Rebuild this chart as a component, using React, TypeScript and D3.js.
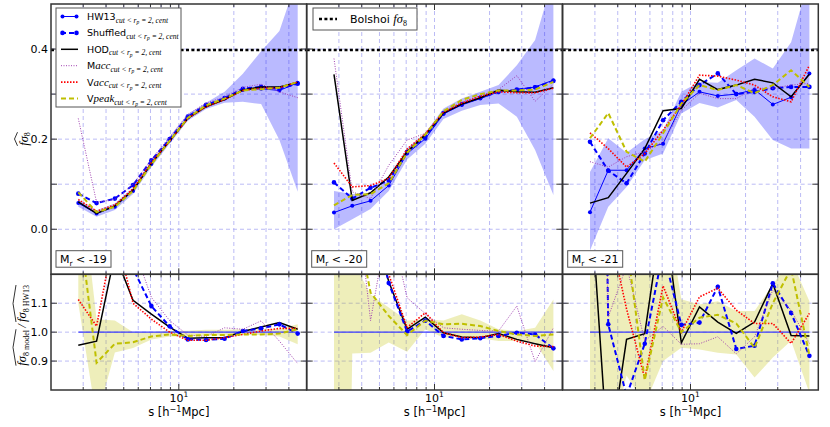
import React, { useEffect, useRef } from 'react';
import * as d3 from 'd3';

// separation bins, s [h^-1 Mpc]
const sep = [2.82, 3.55, 4.47, 5.62, 7.08, 8.91, 11.2, 14.1, 17.8, 22.4, 28.2, 35.5, 44.7];

const bolshoiF8 = 0.398;

// ---- M_r < -19 ----
const hw13_19 = [0.058, 0.035, 0.05, 0.085, 0.145, 0.197, 0.248, 0.274, 0.29, 0.309, 0.312, 0.308, 0.325];
const shuffled_19 = [0.079, 0.058, 0.068, 0.098, 0.153, 0.2, 0.25, 0.276, 0.291, 0.312, 0.316, 0.312, 0.323];
const hod_19 = [0.061, 0.035, 0.052, 0.087, 0.146, 0.196, 0.246, 0.272, 0.288, 0.309, 0.316, 0.316, 0.326];
const macc_19 = [0.246, 0.06, 0.066, 0.1, 0.155, 0.205, 0.255, 0.28, 0.294, 0.315, 0.322, 0.305, 0.292];
const vacc_19 = [0.066, 0.04, 0.054, 0.09, 0.148, 0.196, 0.246, 0.272, 0.288, 0.308, 0.313, 0.314, 0.327];
const vpeak_19 = [0.082, 0.038, 0.05, 0.085, 0.144, 0.196, 0.247, 0.275, 0.29, 0.308, 0.311, 0.314, 0.327];
const bandLo_19 = [0.05, 0.028, 0.043, 0.078, 0.138, 0.19, 0.241, 0.267, 0.281, 0.283, 0.278, 0.198, 0.083];
const bandHi_19 = [0.066, 0.042, 0.057, 0.092, 0.152, 0.204, 0.255, 0.281, 0.305, 0.345, 0.395, 0.44, 0.56];
const hodR_19 = [0.955, 0.969, 1.27, 1.11, 1.062, 1.017, 0.979, 0.981, 0.981, 1.002, 1.018, 1.033, 1.01];
const shufR_19 = [1.36, 1.6, 1.35, 1.22, 1.09, 1.02, 0.975, 0.973, 0.977, 1.004, 1.013, 1.027, 0.995];
const maccR_19 = [4.2, 1.7, 1.3, 1.3, 1.12, 1.04, 0.99, 0.985, 1.015, 1.01, 1.039, 0.969, 0.891];
const vaccR_19 = [1.113, 1.021, 1.35, 1.1, 1.045, 1.0, 0.972, 0.972, 0.981, 0.992, 1.004, 1.013, 1.013];
const vpeakR_19 = [1.4, 0.894, 0.96, 0.965, 0.985, 0.992, 0.987, 0.99, 0.99, 0.992, 0.992, 0.995, 1.01];
const ratioLo_19 = [1.1, 0.7, 0.93, 0.945, 0.975, 0.985, 0.985, 0.988, 0.988, 0.99, 0.99, 0.985, 0.958];
const ratioHi_19 = [1.6, 1.045, 1.04, 1.0, 1.0, 1.005, 1.005, 1.008, 1.008, 1.01, 1.01, 1.012, 1.027];

// ---- M_r < -20 ----
const hw13_20 = [0.037, 0.052, 0.063, 0.097, 0.168, 0.201, 0.256, 0.276, 0.29, 0.305, 0.309, 0.316, 0.331];
const shuffled_20 = [0.104, 0.068, 0.092, 0.108, 0.172, 0.205, 0.258, 0.278, 0.292, 0.305, 0.31, 0.315, 0.329];
const hod_20 = [0.344, 0.064, 0.081, 0.116, 0.172, 0.21, 0.258, 0.278, 0.292, 0.309, 0.305, 0.304, 0.314];
const macc_20 = [0.379, 0.083, 0.068, 0.142, 0.198, 0.213, 0.262, 0.282, 0.297, 0.31, 0.341, 0.284, 0.322];
const vacc_20 = [0.147, 0.094, 0.097, 0.113, 0.178, 0.212, 0.26, 0.28, 0.295, 0.305, 0.303, 0.303, 0.313];
const vpeak_20 = [0.053, 0.076, 0.078, 0.102, 0.17, 0.21, 0.262, 0.287, 0.3, 0.308, 0.308, 0.31, 0.327];
const bandLo_20 = [0.0, 0.022, 0.045, 0.085, 0.155, 0.19, 0.245, 0.263, 0.276, 0.279, 0.25, 0.176, 0.076];
const bandHi_20 = [0.085, 0.078, 0.08, 0.11, 0.18, 0.214, 0.268, 0.29, 0.305, 0.32, 0.364, 0.42, 0.56];
const hodR_20 = [9.3, 1.23, 1.4, 1.175, 1.01, 1.052, 0.998, 0.983, 0.981, 0.995, 0.975, 0.96, 0.946];
const shufR_20 = [2.8, 1.3, 1.46, 1.17, 1.002, 1.04, 0.987, 0.975, 0.979, 0.987, 0.998, 0.992, 0.944];
const maccR_20 = [10, 1.6, 1.04, 1.4, 1.119, 1.064, 1.015, 1.01, 1.006, 1.004, 1.09, 0.898, 1.015];
const vaccR_20 = [4.0, 1.8, 1.55, 1.2, 1.016, 1.067, 0.998, 0.981, 0.983, 0.992, 0.969, 0.952, 0.95];
const vpeakR_20 = [1.43, 1.46, 1.137, 1.056, 0.99, 1.04, 1.027, 1.029, 1.021, 1.004, 0.992, 0.987, 0.992];
const ratioLo_20 = [-3, 0.926, 0.929, 0.964, 0.932, 1.01, 0.981, 0.987, 0.979, 0.969, 0.969, 0.964, 0.866];
const ratioHi_20 = [10, 1.25, 1.13, 1.085, 1.04, 1.045, 1.04, 1.062, 1.04, 1.01, 1.004, 1.015, 1.113];

// ---- M_r < -21 ----
const hw13_21 = [0.038, 0.131, 0.131, 0.179, 0.19, 0.276, 0.305, 0.296, 0.3, 0.31, 0.277, 0.293, 0.346];
const shuffled_21 = [0.194, 0.13, 0.102, 0.168, 0.242, 0.283, 0.32, 0.346, 0.3, 0.305, 0.313, 0.316, 0.316];
const hod_21 = [0.058, 0.07, 0.124, 0.179, 0.263, 0.268, 0.333, 0.31, 0.32, 0.333, 0.325, 0.294, 0.344];
const macc_21 = [0.15, 0.138, 0.161, 0.172, 0.194, 0.264, 0.302, 0.29, 0.29, 0.313, 0.313, 0.32, 0.324];
const vacc_21 = [0.214, 0.179, 0.138, 0.168, 0.22, 0.276, 0.342, 0.34, 0.331, 0.32, 0.294, 0.283, 0.364];
const vpeak_21 = [0.202, 0.258, 0.172, 0.15, 0.213, 0.279, 0.32, 0.309, 0.32, 0.302, 0.32, 0.353, 0.316];
const bandLo_21 = [-0.047, 0.05, 0.094, 0.153, 0.168, 0.257, 0.28, 0.27, 0.287, 0.25, 0.198, 0.179, 0.179];
const bandHi_21 = [0.127, 0.202, 0.17, 0.2, 0.22, 0.305, 0.327, 0.325, 0.353, 0.379, 0.357, 0.415, 0.56];
const hodR_21 = [1.5, 0.55, 0.975, 0.995, 1.43, 0.963, 1.087, 1.035, 0.996, 1.035, 1.168, 0.988, 0.987];
const shufR_21 = [5.0, 1.027, 0.78, 0.96, 1.28, 1.025, 1.033, 1.157, 0.942, 0.953, 1.169, 1.066, 0.918];
const maccR_21 = [3.9, 1.052, 1.23, 0.97, 1.02, 0.958, 0.96, 0.984, 0.925, 0.984, 1.146, 1.076, 0.961];
const vaccR_21 = [5.6, 1.37, 1.08, 0.84, 1.16, 1.0, 1.122, 1.152, 1.076, 1.03, 1.03, 0.961, 1.065];
const vpeakR_21 = [5.3, 1.97, 1.31, 0.834, 1.12, 1.0, 1.05, 1.06, 1.03, 0.946, 1.1, 1.22, 0.92];
const ratioLo_21 = [0.2, 0.6, 0.85, 0.75, 0.9, 0.946, 0.94, 0.929, 0.923, 0.843, 0.912, 0.97, 0.79];
const ratioHi_21 = [3, 1.6, 1.5, 1.4, 1.5, 1.114, 1.096, 1.107, 1.073, 1.073, 1.165, 1.25, 1.107];

const panels = [
  {
    label: '-19',
    top: { hw13: hw13_19, shuffled: shuffled_19, hod: hod_19, macc: macc_19, vacc: vacc_19, vpeak: vpeak_19 },
    lo: bandLo_19, hi: bandHi_19,
    ratio: { hod: hodR_19, shuffled: shufR_19, macc: maccR_19, vacc: vaccR_19, vpeak: vpeakR_19 },
    rlo: ratioLo_19, rhi: ratioHi_19,
  },
  {
    label: '-20',
    top: { hw13: hw13_20, shuffled: shuffled_20, hod: hod_20, macc: macc_20, vacc: vacc_20, vpeak: vpeak_20 },
    lo: bandLo_20, hi: bandHi_20,
    ratio: { hod: hodR_20, shuffled: shufR_20, macc: maccR_20, vacc: vaccR_20, vpeak: vpeakR_20 },
    rlo: ratioLo_20, rhi: ratioHi_20,
  },
  {
    label: '-21',
    top: { hw13: hw13_21, shuffled: shuffled_21, hod: hod_21, macc: macc_21, vacc: vacc_21, vpeak: vpeak_21 },
    lo: bandLo_21, hi: bandHi_21,
    ratio: { hod: hodR_21, shuffled: shufR_21, macc: maccR_21, vacc: vaccR_21, vpeak: vpeakR_21 },
    rlo: ratioLo_21, rhi: ratioHi_21,
  },
];

const styles: Record<string, any> = {
  hw13: { stroke: '#0000ff', width: 1, dash: null, r: 2 },
  shuffled: { stroke: '#0000ff', width: 2, dash: '5,3', r: 2.3 },
  hod: { stroke: '#000000', width: 1.5, dash: null, r: 0 },
  macc: { stroke: '#a040b0', width: 1, dash: '1,1.5', r: 0 },
  vacc: { stroke: '#ff0000', width: 1.6, dash: '1.5,1.5', r: 0 },
  vpeak: { stroke: '#bfbf00', width: 2, dash: '5,3', r: 0 },
};

const legendItems = [
  { key: 'hw13', main: 'HW13', ital: '' },
  { key: 'shuffled', main: 'Shuffled', ital: '' },
  { key: 'hod', main: 'HOD', ital: '' },
  { key: 'macc', main: 'M', ital: 'acc' },
  { key: 'vacc', main: 'V', ital: 'acc' },
  { key: 'vpeak', main: 'V', ital: 'peak' },
];

const xGrid = [3, 4, 5, 6, 7, 8, 9, 10, 20, 30, 40];
const yTopTicks = [0.0, 0.1, 0.2, 0.3, 0.4];
const yTopLabels = ['0.0', '', '0.2', '', '0.4'];
const yBotTicks = [0.9, 1.0, 1.1];
const yBotLabels = ['0.9', '1.0', '1.1'];

const SANS = 'DejaVu Sans, sans-serif';
const SERIF = 'Liberation Serif, DejaVu Serif, serif';

export default function App() {
  const ref = useRef<SVGSVGElement>(null);

  useEffect(() => {
    const svg = d3.select(ref.current);
    svg.selectAll('*').remove();

    const TOP = 4, MID = 274.3, BOT = 390;
    const panelX = [51, 306.7, 562.7];
    const panelW = 255.6;
    const gridColor = '#a9a9f2';
    const spine = '#333';

    const yTop = d3.scaleLinear().domain([-0.1, 0.5]).range([MID, TOP]);
    const yBot = d3.scaleLinear().domain([0.8, 1.2]).range([BOT, MID]);
    const defs = svg.append('defs');

    panels.forEach((p, k) => {
      const x0 = panelX[k];
      const x1 = x0 + panelW;
      const x = d3.scaleLog().domain([2, 50]).range([x0, x1]);

      defs.append('clipPath').attr('id', `ct${k}`)
        .append('rect').attr('x', x0).attr('y', TOP).attr('width', panelW).attr('height', MID - TOP);
      defs.append('clipPath').attr('id', `cb${k}`)
        .append('rect').attr('x', x0).attr('y', MID).attr('width', panelW).attr('height', BOT - MID);

      // grid
      const grid = svg.append('g').attr('stroke', gridColor).attr('stroke-width', 0.8).attr('stroke-dasharray', '4,3');
      xGrid.forEach(v => {
        grid.append('line').attr('x1', x(v)).attr('x2', x(v)).attr('y1', TOP).attr('y2', BOT);
      });
      yTopTicks.forEach(v => {
        grid.append('line').attr('x1', x0).attr('x2', x1).attr('y1', yTop(v)).attr('y2', yTop(v));
      });
      yBotTicks.forEach(v => {
        grid.append('line').attr('x1', x0).attr('x2', x1).attr('y1', yBot(v)).attr('y2', yBot(v));
      });

      // ---- top panel ----
      const gt = svg.append('g').attr('clip-path', `url(#ct${k})`);
      const area = d3.area<number>()
        .x((d, i) => x(sep[i]))
        .y0((d, i) => yTop(p.lo[i]))
        .y1((d, i) => yTop(p.hi[i]));
      gt.append('path').datum(p.lo).attr('d', area).attr('fill', '#0000ff').attr('fill-opacity', 0.27);

      const lineTop = d3.line<number>().x((d, i) => x(sep[i])).y(d => yTop(d));
      ['hw13', 'shuffled', 'hod', 'macc', 'vacc', 'vpeak'].forEach(key => {
        const st = styles[key];
        const vals = (p.top as any)[key] as number[];
        gt.append('path').datum(vals).attr('d', lineTop)
          .attr('fill', 'none').attr('stroke', st.stroke).attr('stroke-width', st.width)
          .attr('stroke-dasharray', st.dash);
        if (st.r) {
          gt.selectAll(null).data(vals).enter().append('circle')
            .attr('cx', (d, i) => x(sep[i])).attr('cy', d => yTop(d)).attr('r', st.r).attr('fill', st.stroke);
        }
      });

      // Bolshoi reference
      svg.append('line').attr('x1', x0).attr('x2', x1)
        .attr('y1', yTop(bolshoiF8)).attr('y2', yTop(bolshoiF8))
        .attr('stroke', '#000').attr('stroke-width', 2.5).attr('stroke-dasharray', '3,2.4');

      // ---- bottom panel ----
      const gb = svg.append('g').attr('clip-path', `url(#cb${k})`);
      const areaB = d3.area<number>()
        .x((d, i) => x(sep[i]))
        .y0((d, i) => yBot(p.rlo[i]))
        .y1((d, i) => yBot(p.rhi[i]));
      gb.append('path').datum(p.rlo).attr('d', areaB).attr('fill', '#bfbf00').attr('fill-opacity', 0.27);
      gb.append('line').attr('x1', x(sep[0])).attr('x2', x(sep[sep.length - 1]))
        .attr('y1', yBot(1)).attr('y2', yBot(1)).attr('stroke', '#3a3aff').attr('stroke-width', 1.3);
      const lineBot = d3.line<number>().x((d, i) => x(sep[i])).y(d => yBot(d));
      ['hod', 'shuffled', 'macc', 'vacc', 'vpeak'].forEach(key => {
        const st = styles[key];
        const vals = (p.ratio as any)[key] as number[];
        gb.append('path').datum(vals).attr('d', lineBot)
          .attr('fill', 'none').attr('stroke', st.stroke).attr('stroke-width', st.width)
          .attr('stroke-dasharray', st.dash);
        if (st.r) {
          gb.selectAll(null).data(vals).enter().append('circle')
            .attr('cx', (d, i) => x(sep[i])).attr('cy', d => yBot(d)).attr('r', st.r).attr('fill', st.stroke);
        }
      });

      // ---- frames and ticks ----
      const ax = svg.append('g').attr('stroke', spine);
      [[TOP, MID], [MID, BOT]].forEach(([a, b]) => {
        ax.append('rect').attr('x', x0).attr('y', a).attr('width', panelW).attr('height', b - a)
          .attr('fill', 'none').attr('stroke-width', 1.5);
        xGrid.forEach(v => {
          const len = v === 10 ? 6 : 3;
          ax.append('line').attr('x1', x(v)).attr('x2', x(v)).attr('y1', a).attr('y2', a + len).attr('stroke-width', 1);
          ax.append('line').attr('x1', x(v)).attr('x2', x(v)).attr('y1', b).attr('y2', b - len).attr('stroke-width', 1);
        });
      });
      yTopTicks.forEach(v => {
        ax.append('line').attr('x1', x0).attr('x2', x0 + 6).attr('y1', yTop(v)).attr('y2', yTop(v)).attr('stroke-width', 1);
        ax.append('line').attr('x1', x1).attr('x2', x1 - 6).attr('y1', yTop(v)).attr('y2', yTop(v)).attr('stroke-width', 1);
      });
      yBotTicks.forEach(v => {
        ax.append('line').attr('x1', x0).attr('x2', x0 + 6).attr('y1', yBot(v)).attr('y2', yBot(v)).attr('stroke-width', 1);
        ax.append('line').attr('x1', x1).attr('x2', x1 - 6).attr('y1', yBot(v)).attr('y2', yBot(v)).attr('stroke-width', 1);
      });

      // x tick label 10^1 and axis label
      const t10 = svg.append('text').attr('x', x(10)).attr('y', 402).attr('text-anchor', 'middle')
        .attr('font-family', SANS).attr('font-size', 11);
      t10.append('tspan').text('10');
      t10.append('tspan').attr('font-size', 7.5).attr('dy', -5).text('1');

      const xl = svg.append('text').attr('x', x0 + panelW / 2).attr('y', 416).attr('text-anchor', 'middle')
        .attr('font-family', SANS).attr('font-size', 11.5);
      xl.append('tspan').text('s [h');
      xl.append('tspan').attr('font-size', 8).attr('dy', -4.5).text('\u22121');
      xl.append('tspan').attr('dy', 4.5).text('Mpc]');

      // magnitude label box
      const mb = svg.append('g');
      mb.append('rect').attr('x', x0 + 5).attr('y', 250.7).attr('width', 55).attr('height', 16.5)
        .attr('fill', '#fff').attr('stroke', '#555').attr('stroke-width', 1);
      const mt = mb.append('text').attr('x', x0 + 9).attr('y', 263).attr('font-family', SANS).attr('font-size', 11);
      mt.append('tspan').text('M');
      mt.append('tspan').attr('font-size', 7.5).attr('dy', 2.5).text('r');
      mt.append('tspan').attr('dy', -2.5).text(` < ${p.label}`);

      // y tick labels (left panel only)
      if (k === 0) {
        yTopTicks.forEach((v, i) => {
          if (!yTopLabels[i]) return;
          svg.append('text').attr('x', x0 - 3).attr('y', yTop(v) + 4).attr('text-anchor', 'end')
            .attr('font-family', SANS).attr('font-size', 11).text(yTopLabels[i]);
        });
        yBotTicks.forEach((v, i) => {
          svg.append('text').attr('x', x0 - 3).attr('y', yBot(v) + 4).attr('text-anchor', 'end')
            .attr('font-family', SANS).attr('font-size', 11).text(yBotLabels[i]);
        });
      }
    });

    // ---- legend (left panel) ----
    const lg = svg.append('g');
    lg.append('rect').attr('x', 56).attr('y', 8).attr('width', 125).attr('height', 99)
      .attr('fill', '#fff').attr('stroke', '#555').attr('stroke-width', 1);
    legendItems.forEach((it, i) => {
      const cy = 16.5 + i * 16.4;
      const st = styles[it.key];
      lg.append('line').attr('x1', 61).attr('x2', 78).attr('y1', cy).attr('y2', cy)
        .attr('stroke', st.stroke).attr('stroke-width', st.width).attr('stroke-dasharray', st.dash);
      if (st.r) {
        [62.5, 76.5].forEach(cx => lg.append('circle').attr('cx', cx).attr('cy', cy).attr('r', st.r).attr('fill', st.stroke));
      }
      const t = lg.append('text').attr('x', 87).attr('y', cy + 3.5).attr('font-family', SANS).attr('font-size', 9.5);
      t.append('tspan').text(it.main);
      if (it.ital) t.append('tspan').attr('font-family', SERIF).attr('font-style', 'italic').attr('font-size', 11).text(it.ital);
      t.append('tspan').attr('font-family', SERIF).attr('font-style', 'italic').attr('font-size', 7.5).attr('dy', 2.5).text('cut < r');
      t.append('tspan').attr('font-family', SERIF).attr('font-style', 'italic').attr('font-size', 5.5).attr('dy', 1.5).text('p');
      t.append('tspan').attr('font-family', SERIF).attr('font-style', 'italic').attr('font-size', 7.5).attr('dy', -1.5).text(' = 2, cent');
    });

    // ---- Bolshoi legend (middle panel) ----
    const bg = svg.append('g');
    bg.append('rect').attr('x', 313).attr('y', 8).attr('width', 104).attr('height', 22)
      .attr('fill', '#fff').attr('stroke', '#555').attr('stroke-width', 1);
    bg.append('line').attr('x1', 319).attr('x2', 337).attr('y1', 19).attr('y2', 19)
      .attr('stroke', '#000').attr('stroke-width', 2.5).attr('stroke-dasharray', '3,2.4');
    const bt = bg.append('text').attr('x', 350).attr('y', 23).attr('font-family', SANS).attr('font-size', 11);
    bt.append('tspan').text('Bolshoi ');
    bt.append('tspan').attr('font-family', SERIF).attr('font-style', 'italic').attr('font-size', 12.5).text('f\u03c3');
    bt.append('tspan').attr('font-family', SERIF).attr('font-size', 8).attr('dy', 2.5).text('8');

    // ---- y axis labels with hats ----
    const hat = (g: any, node: SVGTextElement, top: number) => {
      const bb = node.getBBox();
      g.append('path')
        .attr('d', `M${bb.x},${top} L${bb.x + bb.width / 2},${top - 3} L${bb.x + bb.width},${top}`)
        .attr('fill', 'none').attr('stroke', '#000').attr('stroke-width', 0.8);
    };

    const gy1 = svg.append('g').attr('transform', 'translate(27.5,139) rotate(-90)');
    const ty1 = gy1.append('text').attr('text-anchor', 'middle').attr('font-family', SERIF).attr('font-size', 12.5);
    ty1.append('tspan').attr('font-style', 'italic').text('f\u03c3');
    ty1.append('tspan').attr('font-size', 8).attr('dy', 2.5).text('8');
    hat(gy1, ty1.node() as SVGTextElement, -10);

    const gy2 = svg.append('g').attr('transform', 'translate(26,326) rotate(-90)');
    const ta = gy2.append('text').attr('x', -4).attr('text-anchor', 'end').attr('font-family', SERIF).attr('font-size', 12.5);
    ta.append('tspan').attr('font-style', 'italic').text('f\u03c3');
    ta.append('tspan').attr('font-size', 8).attr('dy', 2.5).text('8 model');
    hat(gy2, ta.node() as SVGTextElement, -10);
    gy2.append('text').attr('x', 0).attr('text-anchor', 'middle').attr('font-family', SERIF)
      .attr('font-style', 'italic').attr('font-size', 12.5).text('/');
    const tb = gy2.append('text').attr('x', 4).attr('text-anchor', 'start').attr('font-family', SERIF).attr('font-size', 12.5);
    tb.append('tspan').attr('font-style', 'italic').text('f\u03c3');
    tb.append('tspan').attr('font-size', 8).attr('dy', 2.5).text('8 HW13');
    hat(gy2, tb.node() as SVGTextElement, -10);
  }, []);

  return (
    <svg ref={ref} width={830} height={427}
      style={{ position: 'absolute', left: 0, top: 0, background: '#fff' }} />
  );
}
